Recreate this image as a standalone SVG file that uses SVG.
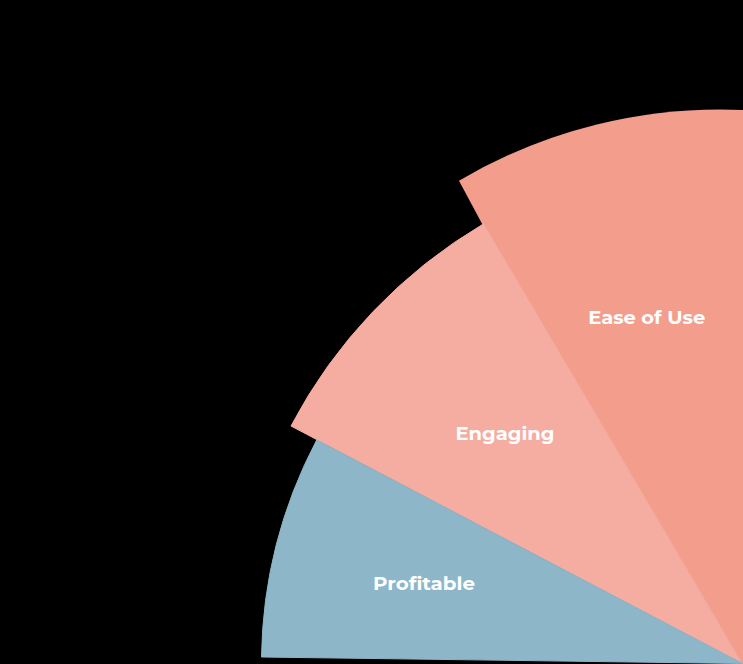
<svg xmlns="http://www.w3.org/2000/svg" width="743" height="664" viewBox="0 0 743 664">
  <style>
    .lbl { font-family: "Montserrat", "Open Sans", "Liberation Sans", sans-serif; font-weight: 700; font-size: 18px; fill: #ffffff; text-anchor: middle; }
    .wedge { stroke-width: 1; stroke-linejoin: miter; }
  </style>
  <rect x="0" y="0" width="743" height="664" fill="#000000"/>
  <g id="ease-of-use">
    <path class="wedge" d="M742.5,663.5 L482.6,224.8 L459,180.7 A514,514 0 0 1 745,110 L745,664 Z" fill="#F39E8D" stroke="none"/>
  </g>
  <g id="engaging">
    <path class="wedge" d="M742.5,663.5 L291,426 A510.2,510.2 0 0 1 483.3,224 Z" fill="#F5ACA1" stroke="#F5ACA1"/>
  </g>
  <g id="profitable">
    <path class="wedge" d="M742.5,663.5 L261.5,657 A481.6,481.6 0 0 1 316.7,440 Z" fill="#8DB6C8" stroke="#8DB6C8"/>
  </g>
  <g id="labels">
    <text class="lbl" x="646.7" y="324" textLength="117" lengthAdjust="spacingAndGlyphs">Ease of Use</text>
    <text class="lbl" x="505" y="440" textLength="99" lengthAdjust="spacingAndGlyphs">Engaging</text>
    <text class="lbl" x="424" y="590" textLength="102" lengthAdjust="spacingAndGlyphs">Profitable</text>
  </g>
  <g id="connectors"/>
</svg>
